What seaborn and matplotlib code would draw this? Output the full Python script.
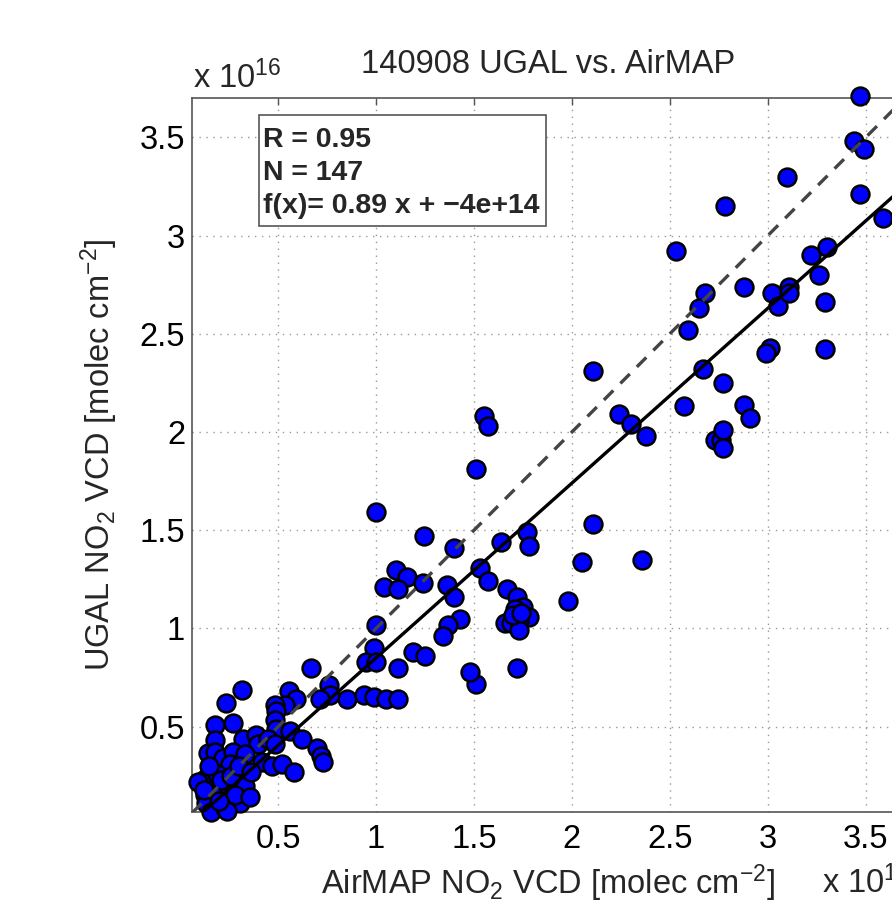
import numpy as np
import matplotlib
matplotlib.use('Agg')
import matplotlib.pyplot as plt
import seaborn as sns
from matplotlib.patches import Rectangle
from matplotlib.ticker import FuncFormatter, MultipleLocator

# values in units of 1e16 molec cm^-2
airmap = [3.47, 3.44, 3.49, 3.47, 3.59, 3.10, 2.78, 2.53, 2.68, 2.65,
          2.88, 3.02, 3.05, 3.11, 3.11, 3.22, 3.30, 3.26, 3.29, 2.59,
          2.11, 2.24, 2.30, 2.38, 2.67, 2.77, 2.57, 2.88, 2.91, 3.01,
          2.99, 3.29, 2.73, 2.76, 2.77, 2.77,
          1.55, 1.57, 1.51, 2.11, 2.05, 2.36, 1.98, 1.77, 1.78, 1.64,
          1.53, 1.57, 1.67, 1.72, 1.75, 1.78, 1.71, 1.66, 1.69, 1.73,
          1.73, 1.72, 1.51, 1.48, 1.00, 1.245, 1.40, 1.10, 1.16, 1.04,
          1.11, 1.24, 1.36, 1.40, 1.43, 1.37, 1.34, 1.00, 0.99, 0.95,
          1.00, 1.11, 1.19, 1.25, 0.85, 0.94, 0.99, 1.05, 1.11, 0.67,
          0.76, 0.765, 0.714, 1.70, 1.74,
          0.315, 0.235, 0.556, 0.59, 0.536, 0.485, 0.49, 0.485, 0.49, 0.18,
          0.27, 0.18, 0.32, 0.39, 0.40, 0.45, 0.485, 0.56, 0.62, 0.70,
          0.72, 0.73, 0.42, 0.47, 0.52, 0.58, 0.145, 0.18, 0.22, 0.27,
          0.33, 0.255, 0.10, 0.135, 0.19, 0.247, 0.29, 0.33, 0.127, 0.18,
          0.135, 0.24, 0.306, 0.16, 0.23, 0.28, 0.357, 0.24, 0.093,
          0.21, 0.15, 0.26, 0.20, 0.12, 0.30, 0.36]
ugal = [3.71, 3.48, 3.44, 3.21, 3.09, 3.30, 3.15, 2.92, 2.71, 2.63,
        2.74, 2.71, 2.64, 2.74, 2.71, 2.90, 2.94, 2.80, 2.66, 2.52,
        2.31, 2.09, 2.04, 1.98, 2.32, 2.25, 2.13, 2.14, 2.07, 2.43,
        2.40, 2.42, 1.96, 1.96, 2.01, 1.92,
        2.08, 2.03, 1.81, 1.53, 1.34, 1.35, 1.14, 1.49, 1.42, 1.44,
        1.31, 1.24, 1.20, 1.16, 1.11, 1.06, 1.10, 1.03, 1.03, 1.04,
        0.99, 0.80, 0.72, 0.78, 1.595, 1.47, 1.41, 1.30, 1.26, 1.21,
        1.20, 1.23, 1.22, 1.16, 1.05, 1.02, 0.96, 1.02, 0.90, 0.83,
        0.83, 0.80, 0.88, 0.86, 0.64, 0.66, 0.65, 0.64, 0.64, 0.80,
        0.71, 0.66, 0.64, 1.07, 1.08,
        0.685, 0.62, 0.68, 0.64, 0.61, 0.61, 0.58, 0.535, 0.49, 0.51,
        0.52, 0.43, 0.44, 0.46, 0.41, 0.44, 0.41, 0.476, 0.44, 0.39,
        0.35, 0.32, 0.32, 0.30, 0.31, 0.27, 0.366, 0.37, 0.34, 0.37,
        0.36, 0.31, 0.22, 0.24, 0.26, 0.20, 0.23, 0.20, 0.15, 0.19,
        0.11, 0.14, 0.11, 0.068, 0.085, 0.15, 0.14, 0.07, 0.22,
        0.23, 0.30, 0.25, 0.12, 0.18, 0.30, 0.27]

fit_slope = 0.89
fit_offset = -0.04
lims = [0.061, 3.70]
ylims = [0.066, 3.70]
stats = ['R = 0.95', 'N = 147', 'f(x)= 0.89 x + \u22124e+14']

sns.set_style('white')
plt.rcParams['font.family'] = ['Liberation Sans', 'DejaVu Sans']
plt.rcParams['mathtext.fontset'] = 'custom'
plt.rcParams['mathtext.rm'] = 'Liberation Sans'
plt.rcParams['mathtext.it'] = 'Liberation Sans:italic'
plt.rcParams['mathtext.bf'] = 'Liberation Sans:bold'

fs = 23.5

fig = plt.figure(figsize=(8.92, 9.0), dpi=100)
ax = fig.add_axes([192 / 892, 88 / 900, 713 / 892, 714 / 900])

sns.scatterplot(x=airmap, y=ugal, ax=ax, s=165, color='blue',
                edgecolor='black', linewidth=1.8, zorder=3)
for c in ax.collections:
    c.set_clip_on(False)

xx = np.array(lims)
ax.plot(xx, xx, color='#444444', lw=2.4, dashes=(4, 3), zorder=4)
ax.plot(xx, fit_slope * xx + fit_offset, color='black', lw=2.4, zorder=4)

ax.set_xlim(lims)
ax.set_ylim(ylims)
ax.xaxis.set_major_locator(MultipleLocator(0.5))
ax.yaxis.set_major_locator(MultipleLocator(0.5))
fmt = FuncFormatter(lambda v, p: '%g' % v)
ax.xaxis.set_major_formatter(fmt)
ax.yaxis.set_major_formatter(fmt)

ax.grid(True, color='#999999', linestyle=(0, (1, 4)), lw=1.0, zorder=0)
ax.set_axisbelow(True)
for s in ax.spines.values():
    s.set_color('#555555')
    s.set_linewidth(1.2)
ax.tick_params(direction='in', length=5, width=1, color='#555555',
               top=True, right=True, labelsize=fs, labelcolor='black')
ax.tick_params(axis='x', pad=9)
ax.tick_params(axis='y', pad=5)

ax.set_title('140908 UGAL vs. AirMAP', fontsize=fs, pad=18)
ax.set_xlabel(r'AirMAP NO$_2$ VCD [molec cm$^{-2}$]', fontsize=fs, labelpad=5)
ax.set_ylabel(r'UGAL NO$_2$ VCD [molec cm$^{-2}$]', fontsize=fs, labelpad=14)

fig.text(193 / 892, 1 - 88 / 900, r'x 10$^{16}$', fontsize=fs, va='baseline')
fig.text(822 / 892, 1 - 893 / 900, r'x 10$^{16}$', fontsize=fs, va='baseline')

# stats box
ax.add_patch(Rectangle((0.094, 0.8207), 0.4025, 0.1553, transform=ax.transAxes,
                       fc='white', ec='#555555', lw=1.2, zorder=5))
for line, yb in zip(stats, [0.9314, 0.8852, 0.8389]):
    ax.text(0.0996, yb, line, transform=ax.transAxes, fontsize=20.5,
            fontweight='bold', va='baseline', ha='left', zorder=6)

fig.savefig('out.png', dpi=100)
